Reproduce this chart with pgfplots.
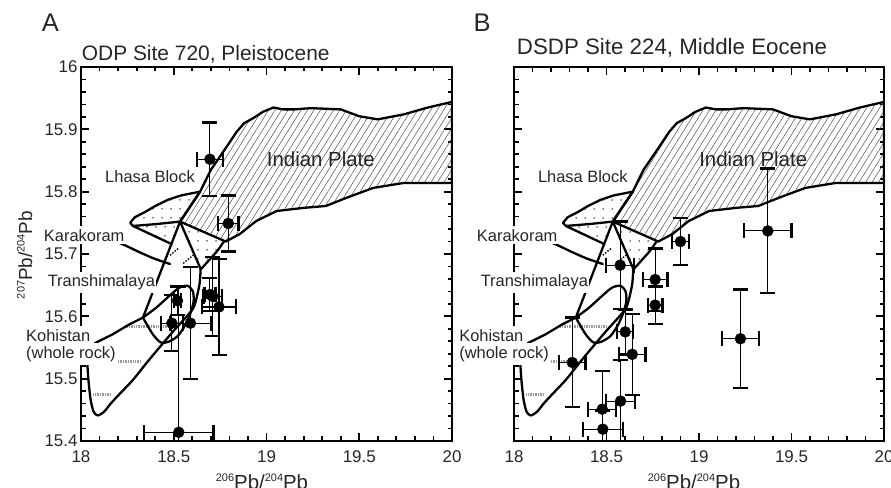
\documentclass[border=0pt]{standalone}
\usepackage{pgfplots}
\pgfplotsset{compat=1.18}
\usepackage{pgfplotstable}
\usetikzlibrary{patterns.meta}
\usepackage{fontspec}
\setmainfont{Liberation Sans}

\newcommand{\ticksize}{\fontsize{17}{17}\selectfont}
\newcommand{\labsize}{\fontsize{16.5}{18}\selectfont}
\newcommand{\sups}[2]{\raisebox{#1}{\fontsize{11}{11}\selectfont #2}}

% ODP Site 720, Pleistocene: x y, x error, y error
\pgfplotstableread{
x y ex ey
18.695 15.852 0.070 0.059
18.794 15.749 0.055 0.045
18.520 15.625 0.020 0.023
18.490 15.589 0.060 0.045
18.590 15.589 0.110 0.090
18.695 15.635 0.030 0.026
18.710 15.632 0.050 0.063
18.744 15.615 0.090 0.077
18.527 15.414 0.187 0.234
}\siteA

% DSDP Site 224, Middle Eocene
\pgfplotstableread{
x y ex ey
19.372 15.737 0.128 0.100
18.900 15.720 0.045 0.038
18.574 15.682 0.076 0.070
18.763 15.659 0.066 0.050
18.763 15.618 0.040 0.030
18.601 15.575 0.044 0.036
18.639 15.539 0.072 0.065
18.315 15.526 0.072 0.072
19.224 15.564 0.100 0.079
18.477 15.451 0.076 0.061
18.576 15.464 0.079 0.066
18.480 15.419 0.108 0.030
}\siteB

% Indian Plate field
\pgfplotstableread{
x y
18.534 15.752
18.642 15.800
18.700 15.835
18.785 15.872
18.839 15.896
18.880 15.910
18.929 15.918
18.980 15.928
19.037 15.935
19.090 15.932
19.150 15.932
19.240 15.934
19.400 15.932
19.500 15.921
19.600 15.916
19.740 15.924
19.870 15.935
20.000 15.944
20.000 15.814
19.740 15.814
19.575 15.806
19.430 15.790
19.320 15.777
19.200 15.774
19.055 15.769
18.945 15.753
18.856 15.732
18.780 15.720
}\indianplate

% Lhasa Block lens
\pgfplotstableread{
x y
18.265 15.750
18.290 15.759
18.343 15.767
18.400 15.777
18.469 15.787
18.540 15.794
18.642 15.800
18.534 15.752
18.406 15.748
18.280 15.745
}\lhasa

\tikzset{
  fieldlabel/.style={font=\labsize, inner xsep=1bp, inner ysep=3bp, text=black!85},
}

\pgfplotsset{
  isoaxis/.style={
    scale only axis, width=371bp, height=374bp,
    anchor=south west,
    xmin=18, xmax=20, ymin=15.4, ymax=16,
    xtick={18,18.5,19,19.5,20},
    ytick={15.4,15.5,15.6,15.7,15.8,15.9,16},
    minor x tick num=4, minor y tick num=4,
    tick align=inside,
    major tick length=8bp, minor tick length=4.5bp,
    every tick/.append style={black, line width=1.8pt},
    axis line style={black, line width=2.6pt},
    tick label style={font=\ticksize, text=black!85},
    xticklabel style={yshift=-6bp},
    /pgf/number format/assume math mode=true,
    clip mode=individual,
  },
  fieldline/.style={black, line width=2.3pt, line join=round, line cap=round, mark=none},
  smoothline/.style={fieldline, smooth, tension=0.45},
  grayhatch/.style={black!40, line width=3pt, dash pattern=on 0.7pt off 1pt, mark=none},
  isodata/.style={black, only marks, mark=*, mark size=5.5bp,
    mark options={fill=black, draw=black},
    error bars/.cd, x dir=both, x explicit, y dir=both, y explicit,
    error bar style={line width=1.1pt, black},
    error mark options={rotate=90, line width=2.3pt, mark size=7.5bp, black}},
}

\newcommand{\isofields}{%
  % hatched Indian Plate
  \addplot[draw=none, pattern={Lines[angle=58, distance=5.5bp, line width=0.5pt]},
    pattern color=black!70] table {\indianplate} -- cycle;
  % dotted Lhasa Block fields
  \addplot[draw=none, pattern={Dots[distance=9bp, radius=0.75bp]}, pattern color=black]
    table {\lhasa} -- cycle;
  \addplot[draw=none, pattern={Dots[distance=9bp, radius=0.75bp, xshift=3bp]}, pattern color=black]
    coordinates {(18.280,15.745) (18.534,15.752) (18.488,15.716)} -- cycle;
  \addplot[draw=none, pattern={Dots[distance=9bp, radius=0.75bp, yshift=4bp]}, pattern color=black]
    coordinates {(18.534,15.752) (18.770,15.720) (18.735,15.705) (18.690,15.690) (18.648,15.676)} -- cycle;
  % grey hatching
  \addplot[grayhatch] coordinates {(18.25,15.583) (18.50,15.583)};
  \addplot[grayhatch] coordinates {(18.19,15.528) (18.32,15.528)};
  \addplot[grayhatch] coordinates {(18.066,15.474) (18.165,15.474)};
  % outlines
  \addplot[fieldline] table {\indianplate} -- cycle;
  \addplot[fieldline] table {\lhasa} -- cycle;
  \addplot[fieldline] coordinates {(18.280,15.745) (18.488,15.716)};
  \addplot[fieldline] coordinates {(18.534,15.752) (18.334,15.598)};
  \addplot[fieldline] coordinates {(18.534,15.752) (18.645,15.676)};
  \addplot[smoothline] coordinates {(18.645,15.676) (18.638,15.650) (18.610,15.616)
    (18.570,15.600) (18.500,15.577) (18.420,15.549) (18.350,15.524) (18.280,15.498)
    (18.210,15.476) (18.160,15.460) (18.125,15.447) (18.090,15.441) (18.068,15.447)
    (18.052,15.466) (18.040,15.498) (18.034,15.525)};
  \addplot[smoothline] coordinates {(18.770,15.720) (18.735,15.705) (18.690,15.690) (18.648,15.676)};
  \addplot[smoothline] coordinates {(18.175,15.722) (18.244,15.713) (18.300,15.705)
    (18.352,15.698) (18.400,15.692) (18.480,15.684)};
  \addplot[fieldline] coordinates {(18.075,15.557) (18.170,15.571) (18.260,15.587) (18.334,15.598)};
  \addplot[smoothline] coordinates {(18.334,15.598) (18.406,15.614) (18.477,15.633)
    (18.530,15.646) (18.575,15.649) (18.603,15.640) (18.607,15.624) (18.590,15.605)
    (18.560,15.585) (18.520,15.568) (18.470,15.559) (18.430,15.558) (18.390,15.570)
    (18.355,15.587) (18.334,15.598)};
  \addplot[black, line width=1.4pt, dash pattern=on 1.5pt off 1.5pt] coordinates {(18.48,15.698) (18.525,15.709)};
  \addplot[black, line width=1.4pt, dash pattern=on 1.5pt off 1.5pt] coordinates {(18.551,15.685) (18.605,15.698)};
  % field names
  \node[fieldlabel] at (axis cs:18.372,15.824) {Lhasa Block};
  \node[font=\fontsize{20.5}{21}\selectfont, text=black!85] at (axis cs:19.293,15.852) {Indian Plate};
  \node[fieldlabel, fill=white] at (axis cs:18.017,15.730) {Karakoram};
  \node[fieldlabel, fill=white] at (axis cs:18.110,15.654) {Transhimalaya};
  \node[fieldlabel, fill=white, anchor=base west] at (axis cs:17.698,15.5604) {Kohistan};
  \node[fieldlabel, fill=white, anchor=base west] at (axis cs:17.698,15.5326) {(whole rock)};
}

\begin{document}
\begin{tikzpicture}
\useasboundingbox (0bp,0bp) rectangle (891bp,488bp);
\begin{axis}[isoaxis, at={(81bp,47bp)}]
  \isofields
  \addplot[isodata] table[x=x, y=y, x error=ex, y error=ey] {\siteA};
\end{axis}
\begin{axis}[isoaxis, at={(514bp,47bp)}, width=370bp, yticklabels={}]
  \isofields
  \addplot[isodata] table[x=x, y=y, x error=ex, y error=ey] {\siteB};
\end{axis}
% panel letters and titles
\node[anchor=base west, inner sep=0, font=\fontsize{25.6}{26}\selectfont, text=black!85] at (41.7bp,456.3bp) {A};
\node[anchor=base west, inner sep=0, font=\fontsize{25.6}{26}\selectfont, text=black!85] at (473.3bp,456.3bp) {B};
\node[anchor=base west, inner sep=0, font=\fontsize{21}{21}\selectfont, text=black!85] at (81.7bp,427.3bp) {ODP Site 720, Pleistocene};
\node[anchor=base west, inner sep=0, font=\fontsize{22.4}{23}\selectfont, text=black!85] at (516.7bp,433bp) {DSDP Site 224, Middle Eocene};
% axis titles
\node[anchor=base, inner sep=0, font=\fontsize{20.5}{21}\selectfont, text=black!85] at (262bp,-1.5bp) {\sups{8.5bp}{206}Pb/\sups{8.5bp}{204}Pb};
\node[anchor=base, inner sep=0, font=\fontsize{20.5}{21}\selectfont, text=black!85] at (694bp,-1.5bp) {\sups{8.5bp}{206}Pb/\sups{8.5bp}{204}Pb};
\node[anchor=base, rotate=90, inner sep=0, font=\fontsize{19}{19}\selectfont, text=black!85] at (32bp,233bp) {\sups{7.5bp}{207}Pb/\sups{7.5bp}{204}Pb};
\end{tikzpicture}
\end{document}
